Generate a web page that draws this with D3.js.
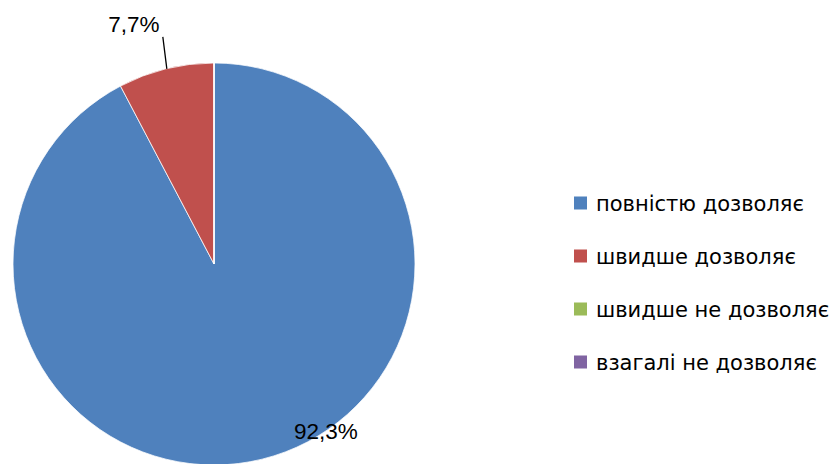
<!DOCTYPE html>
<html><head><meta charset="utf-8">
<script src="https://cdn.jsdelivr.net/npm/d3@7"></script>
<style>html,body{margin:0;padding:0;background:#fff;}svg{display:block;}</style>
</head><body>
<svg id="c" width="835" height="464"></svg>
<script>
const categories = ["повністю дозволяє", "швидше дозволяє", "швидше не дозволяє", "взагалі не дозволяє"];
const values = [92.3, 7.7, 0, 0];
const labels = ["92,3%", "7,7%", "", ""];
const colors = ["#4F81BD", "#C0504D", "#9BBB59", "#8064A2"];

const svg = d3.select("#c");
const cx = 214, cy = 264, R = 201;
const g = svg.append("g").attr("transform", `translate(${cx},${cy})`);
const pie = d3.pie().sort(null).value(d => d)(values);
const arc = d3.arc().innerRadius(0).outerRadius(R);
const color = d3.scaleOrdinal().domain(categories).range(colors);

g.selectAll("path").data(pie).join("path")
  .attr("d", arc)
  .attr("fill", (d, i) => color(categories[i]))
  .attr("stroke", "#fff").attr("stroke-width", 0.75);

const font = "'Liberation Sans', Arial, sans-serif";
// label for blue slice
{
  const d = pie[0];
  const a = d.startAngle + (d.endAngle - d.startAngle) * 0.44;
  const x = Math.sin(a) * R, y = -Math.cos(a) * R;
  g.append("text").attr("x", x).attr("y", y + 8)
    .attr("text-anchor", "middle").attr("font-family", font).attr("font-size", 22.5)
    .attr("fill", "#000").text(labels[0]);
}
// label for red slice with leader
{
  const d = pie[1];
  const a = (d.startAngle + d.endAngle) / 2;
  const x = Math.sin(a) * R, y = -Math.cos(a) * R;
  g.append("line").attr("x1", x + 1).attr("y1", y).attr("x2", x - 3).attr("y2", y - 32)
    .attr("stroke", "#000").attr("stroke-width", 1.3);
  g.append("text").attr("x", x - 32).attr("y", y - 37)
    .attr("text-anchor", "middle").attr("font-family", font).attr("font-size", 22.5)
    .attr("fill", "#000").text(labels[1]);
}

// legend
const ly = d3.scalePoint().domain(categories).range([203, 362]);
const lg = svg.append("g");
categories.forEach(c => {
  lg.append("rect").attr("x", 574).attr("y", ly(c) - 6.5).attr("width", 13).attr("height", 13)
    .attr("fill", color(c));
  lg.append("text").attr("x", 596).attr("y", ly(c)).attr("dy", "0.36em")
    .attr("font-family", "'DejaVu Sans', Verdana, sans-serif").attr("font-size", 21)
    .attr("fill", "#000").text(c);
});
</script>
</body></html>
